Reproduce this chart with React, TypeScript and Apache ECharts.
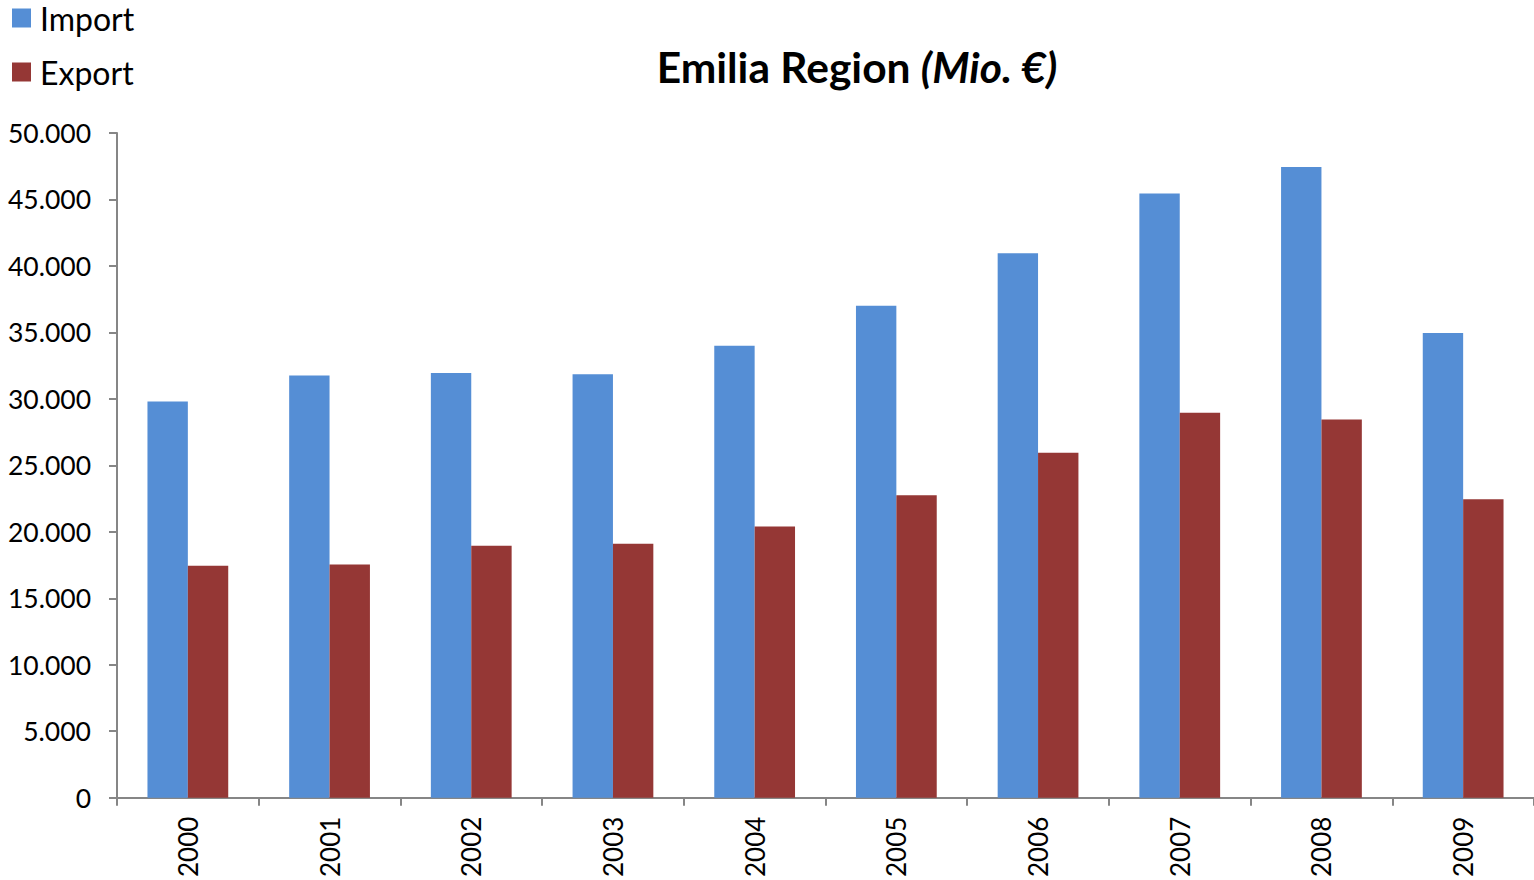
import React, { useEffect, useRef } from "react";
import * as echarts from "echarts";

const years = ["2000", "2001", "2002", "2003", "2004", "2005", "2006", "2007", "2008", "2009"];
const importValues = [29800, 31750, 31950, 31850, 34000, 37000, 40950, 45450, 47450, 34950];
const exportValues = [17450, 17550, 18950, 19100, 20400, 22750, 25950, 28950, 28450, 22450];

const FONT = "Lato, 'Open Sans', sans-serif";

export default function App() {
  const ref = useRef<HTMLDivElement>(null);
  useEffect(() => {
    if (!ref.current) return;
    const chart = echarts.init(ref.current, undefined, { renderer: "svg" });
    chart.setOption({
      animation: false,
      backgroundColor: "#ffffff",
      title: {
        text: "{b|Emilia Region }{i|(Mio. €)}",
        left: 852,
        textAlign: "center",
        top: 40,
        textStyle: {
          rich: {
            b: { fontSize: 42.5, fontWeight: "bold", fontFamily: FONT, color: "#000" },
            i: { fontSize: 42.5, fontWeight: "bold", fontStyle: "italic", fontFamily: FONT, color: "#000" },
          },
        },
      },
      legend: {
        orient: "vertical",
        left: 7,
        top: -3,
        itemWidth: 19,
        itemHeight: 19,
        itemGap: 22,
        icon: "rect",
        textStyle: { fontSize: 32, fontFamily: FONT, color: "#000", padding: [0, 0, 0, 4] },
        data: ["Import", "Export"],
      },
      grid: { left: 117, right: 0, top: 133, bottom: 78, containLabel: false },
      xAxis: {
        type: "category",
        data: years,
        axisLine: { lineStyle: { color: "#868686", width: 2 } },
        axisTick: { show: true, length: 8, alignWithLabel: false, lineStyle: { color: "#868686", width: 2 } },
        axisLabel: { rotate: 90, fontSize: 26, fontFamily: FONT, color: "#000", margin: 19 },
      },
      yAxis: {
        type: "value",
        min: 0,
        max: 50000,
        interval: 5000,
        splitLine: { show: false },
        axisLine: { show: true, lineStyle: { color: "#868686", width: 2 } },
        axisTick: { show: true, length: 8, lineStyle: { color: "#868686", width: 2 } },
        axisLabel: {
          fontSize: 26.5,
          fontFamily: FONT,
          color: "#000",
          margin: 26,
          formatter: (v: number) => v.toLocaleString("de-DE"),
        },
      },
      series: [
        {
          name: "Import",
          type: "bar",
          data: importValues,
          itemStyle: { color: "#558ED5" },
          barGap: "0%",
          barCategoryGap: "43%",
        },
        {
          name: "Export",
          type: "bar",
          data: exportValues,
          itemStyle: { color: "#953735" },
          barGap: "0%",
          barCategoryGap: "43%",
        },
      ],
    });
    return () => chart.dispose();
  }, []);
  return (
    <div
      ref={ref}
      style={{ position: "absolute", left: 0, top: 0, width: 1534, height: 880 }}
    />
  );
}
